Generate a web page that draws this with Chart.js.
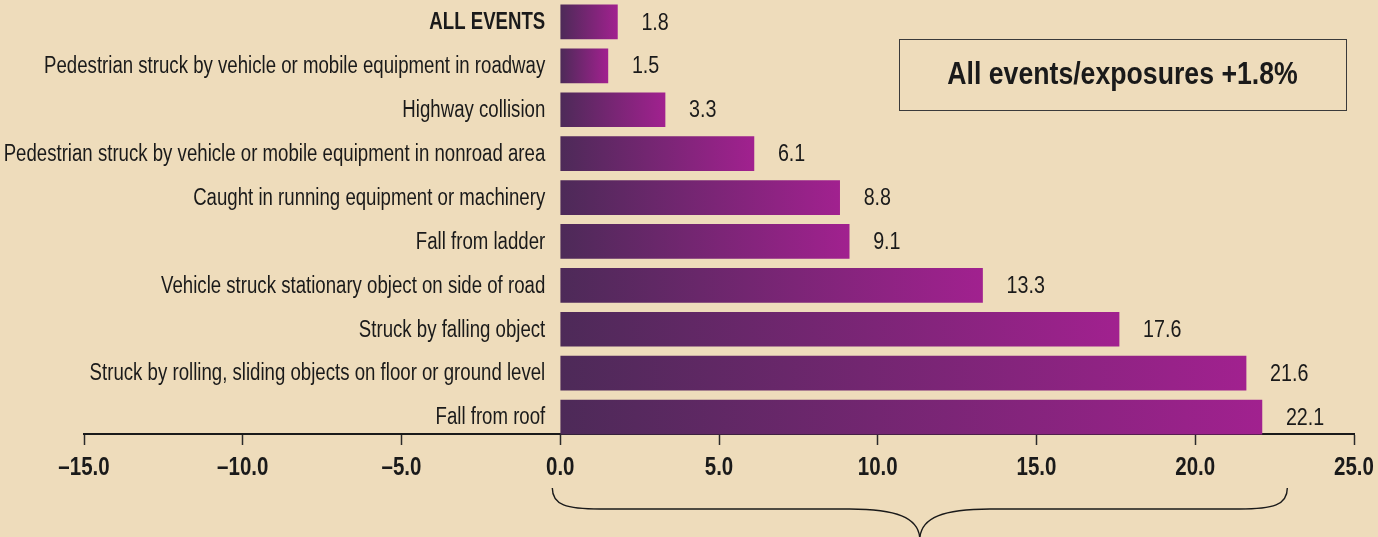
<!DOCTYPE html>
<html>
<head>
<meta charset="utf-8">
<script src="https://cdn.jsdelivr.net/npm/chart.js@4.4.1/dist/chart.umd.min.js"></script>
<style>
  html, body { margin: 0; padding: 0; background: #EEDCBB; }
  #wrap { width: 1378px; height: 537px; position: relative; }
</style>
</head>
<body>
<div id="wrap"><canvas id="c" width="1378" height="537"></canvas></div>
<script>
const categories = [
  "ALL EVENTS",
  "Pedestrian struck by vehicle or mobile equipment in roadway",
  "Highway collision",
  "Pedestrian struck by vehicle or mobile equipment in nonroad area",
  "Caught in running equipment or machinery",
  "Fall from ladder",
  "Vehicle struck stationary object on side of road",
  "Struck by falling object",
  "Struck by rolling, sliding objects on floor or ground level",
  "Fall from roof"
];
const values = [1.8, 1.5, 3.3, 6.1, 8.8, 9.1, 13.3, 17.6, 21.6, 22.1];
const xTicks = [-15, -10, -5, 0, 5, 10, 15, 20, 25];
const boxText = "All events/exposures +1.8%";
const braceRange = [-0.25, 22.9];

const FONT = "'Liberation Sans', Arial, sans-serif";
const SX = 0.82; // horizontal condensing to mimic a condensed face
const BG = '#EEDCBB';
const DARK = '#4d2a58';
const LIGHT = '#a1218f';
const INK = '#1a1a1a';

function barGradient(ctx) {
  const chart = ctx.chart;
  const xs = chart.scales && chart.scales.x;
  if (!xs || ctx.raw == null) return DARK;
  const x0 = xs.getPixelForValue(0);
  const x1 = xs.getPixelForValue(ctx.raw);
  if (!isFinite(x0) || !isFinite(x1) || x1 === x0) return DARK;
  const g = chart.ctx.createLinearGradient(x0, 0, x1, 0);
  g.addColorStop(0, DARK);
  g.addColorStop(1, LIGHT);
  return g;
}

function txt(c, s, x, y, font, align, sx) {
  c.save();
  c.translate(x, y);
  c.scale(sx, 1);
  c.font = font;
  c.textAlign = align;
  c.textBaseline = 'middle';
  c.fillStyle = INK;
  c.fillText(s, 0, 0);
  c.restore();
}

const decorPlugin = {
  id: 'decor',
  beforeDraw(chart) {
    const c = chart.ctx;
    c.save();
    c.fillStyle = BG;
    c.fillRect(0, 0, chart.width, chart.height);
    c.restore();
  },
  afterDraw(chart) {
    const c = chart.ctx;
    const xs = chart.scales.x, ys = chart.scales.y;
    const meta = chart.getDatasetMeta(0);
    const zeroX = xs.getPixelForValue(0);
    // category labels
    categories.forEach((lab, i) => {
      const f = (i === 0 ? 'bold ' : '') + '23px ' + FONT;
      txt(c, lab, zeroX - 15, ys.getPixelForValue(i) + 1, f, 'right', 0.81);
    });
    // value labels
    meta.data.forEach((bar, i) => {
      txt(c, values[i].toFixed(1), bar.x + 24, bar.y + 1, '24px ' + FONT, 'left', SX);
    });
    // x tick labels
    xTicks.forEach(v => {
      const s = (v < 0 ? '\u2013' : '') + Math.abs(v).toFixed(1);
      txt(c, s, xs.getPixelForValue(v), 468, 'bold 25px ' + FONT, 'center', SX);
    });
    // annotation box
    c.save();
    const bx = 899, by = 39, bw = 447, bh = 71;
    c.strokeStyle = '#3a3a3a';
    c.lineWidth = 1;
    c.strokeRect(bx + 0.5, by + 0.5, bw, bh);
    c.restore();
    txt(c, boxText, bx + bw / 2, by + bh / 2 + 1, 'bold 31px ' + FONT, 'center', 0.86);
    // curly brace
    const xL = xs.getPixelForValue(braceRange[0]);
    const xR = xs.getPixelForValue(braceRange[1]);
    const xm = (xL + xR) / 2;
    const yTop = 488, yMid = 509, yTip = 540;
    c.save();
    c.strokeStyle = INK;
    c.lineWidth = 1.4;
    c.beginPath();
    c.moveTo(xL, yTop);
    c.bezierCurveTo(xL, yMid - 4, xL + 14, yMid, xL + 48, yMid);
    c.lineTo(xm - 70, yMid);
    c.bezierCurveTo(xm - 25, yMid, xm, yMid + 8, xm, yTip);
    c.moveTo(xm, yTip);
    c.bezierCurveTo(xm, yMid + 8, xm + 25, yMid, xm + 70, yMid);
    c.lineTo(xR - 48, yMid);
    c.bezierCurveTo(xR - 14, yMid, xR, yMid - 4, xR, yTop);
    c.stroke();
    c.restore();
  }
};

new Chart(document.getElementById('c'), {
  type: 'bar',
  data: {
    labels: categories,
    datasets: [{
      data: values,
      backgroundColor: barGradient,
      borderWidth: 0,
      barThickness: 34
    }]
  },
  options: {
    indexAxis: 'y',
    responsive: false,
    animation: false,
    events: [],
    layout: { padding: { left: 84, right: 24, top: -2, bottom: 98 } },
    plugins: { legend: { display: false }, tooltip: { enabled: false } },
    scales: {
      y: {
        type: 'category',
        display: false,
        grid: { display: false }
      },
      x: {
        type: 'linear',
        position: { y: 9.39 },
        min: xTicks[0],
        max: xTicks[xTicks.length - 1],
        afterBuildTicks: (scale) => { scale.ticks = xTicks.map(v => ({ value: v })); },
        grid: {
          drawOnChartArea: false,
          drawTicks: true,
          tickLength: 10,
          tickWidth: 1.5,
          tickColor: '#2a2a2a'
        },
        border: { display: true, color: INK, width: 2 },
        ticks: { display: false }
      }
    }
  },
  plugins: [decorPlugin]
});
</script>
</body>
</html>
